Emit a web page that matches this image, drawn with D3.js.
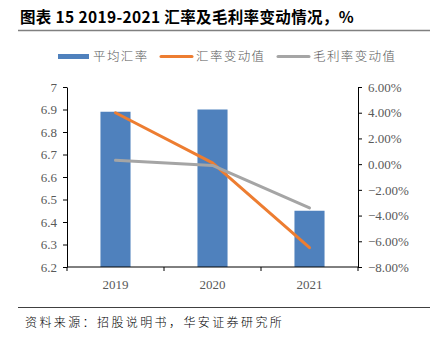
<!DOCTYPE html>
<html>
<head>
<meta charset="utf-8">
<script src="https://cdn.jsdelivr.net/npm/d3@7"></script>
<style>
  html, body { margin: 0; padding: 0; background: #fff; }
  svg { display: block; }
</style>
</head>
<body>
<svg id="chart" width="431" height="337"></svg>
<script>
// Years and series
const years = ["2019", "2020", "2021"];
const avgRate = [6.89, 6.90, 6.45];          // 平均汇率
const rateChange = [4.0, 0.1, -6.5];         // 汇率变动值 (%)
const marginChange = [0.3, -0.1, -3.4];      // 毛利率变动值 (%)
const leftTicks = [6.2, 6.3, 6.4, 6.5, 6.6, 6.7, 6.8, 6.9, 7];
const rightTicks = [-8, -6, -4, -2, 0, 2, 4, 6];

const svg = d3.select("#chart");
const serif = "'Liberation Serif', 'DejaVu Serif', serif";
const cjk = "'Noto Sans CJK SC', sans-serif";

const plot = { left: 67, right: 358, top: 87, bottom: 267 };

const x = d3.scaleBand().domain(years).range([plot.left, plot.right]).paddingInner(0.69).paddingOuter(0.345);
const xBand = d3.scaleBand().domain(years).range([plot.left, plot.right]);
const yL = d3.scaleLinear().domain([6.2, 7]).range([plot.bottom, plot.top]);
const yR = d3.scaleLinear().domain([-8, 6]).range([plot.bottom, plot.top]);

// Title
svg.append("text").attr("x", 20).attr("y", 23)
  .attr("font-family", cjk).attr("font-weight", "bold").attr("font-size", 15.5)
  .attr("letter-spacing", 0.35)
  .attr("fill", "#000").text("图表 15 2019-2021 汇率及毛利率变动情况，%");
svg.append("line").attr("x1", 18).attr("x2", 430).attr("y1", 30.5).attr("y2", 30.5)
  .attr("stroke", "#808080").attr("stroke-width", 1.5);

// Legend
const leg = svg.append("g").attr("font-family", cjk).attr("font-size", 12.5)
  .attr("letter-spacing", 1.4).attr("font-weight", 300);
leg.append("rect").attr("x", 58).attr("y", 54).attr("width", 31).attr("height", 5).attr("fill", "#4F81BD");
leg.append("text").attr("x", 93).attr("y", 61).attr("fill", "#595959").text("平均汇率");
leg.append("line").attr("x1", 161).attr("x2", 192).attr("y1", 56.5).attr("y2", 56.5)
  .attr("stroke", "#ED7D31").attr("stroke-width", 3).attr("stroke-linecap", "round");
leg.append("text").attr("x", 196).attr("y", 61).attr("fill", "#595959").text("汇率变动值");
leg.append("line").attr("x1", 278).attr("x2", 309).attr("y1", 56.5).attr("y2", 56.5)
  .attr("stroke", "#A5A5A5").attr("stroke-width", 3).attr("stroke-linecap", "round");
leg.append("text").attr("x", 313).attr("y", 61).attr("fill", "#595959").text("毛利率变动值");

// Bars
svg.append("g").selectAll("rect").data(years).join("rect")
  .attr("x", d => x(d))
  .attr("width", x.bandwidth())
  .attr("y", (d, i) => yL(avgRate[i]))
  .attr("height", (d, i) => yL(6.2) - yL(avgRate[i]))
  .attr("fill", "#4F81BD");

// Lines
const cx = d => xBand(d) + xBand.bandwidth() / 2;
const lineGen = vals => d3.line().x(d => cx(d)).y((d, i) => yR(vals[i]))(years);
svg.append("path").attr("d", lineGen(rateChange)).attr("fill", "none")
  .attr("stroke", "#ED7D31").attr("stroke-width", 3).attr("stroke-linecap", "round").attr("stroke-linejoin", "round");
svg.append("path").attr("d", lineGen(marginChange)).attr("fill", "none")
  .attr("stroke", "#A5A5A5").attr("stroke-width", 3).attr("stroke-linecap", "round").attr("stroke-linejoin", "round");

// Axes
function styleAxis(g) {
  g.selectAll("path.domain").attr("stroke", "#000").attr("stroke-width", 1);
  g.selectAll(".tick line").attr("stroke", "#000");
  g.selectAll(".tick text").attr("font-family", serif).attr("font-size", 13).attr("fill", "#595959");
}
const axL = svg.append("g").attr("transform", `translate(${plot.left},0)`)
  .call(d3.axisLeft(yL).tickValues(leftTicks).tickSize(4).tickSizeOuter(0).tickPadding(6)
    .tickFormat(d => d3.format("")(d)));
styleAxis(axL);
const axR = svg.append("g").attr("transform", `translate(${plot.right},0)`)
  .call(d3.axisRight(yR).tickValues(rightTicks).tickSize(4).tickSizeOuter(0).tickPadding(6)
    .tickFormat(d => d3.format(".2f")(d) + "%"));
styleAxis(axR);

// X axis with ticks on category boundaries
const axX = svg.append("g").attr("transform", `translate(0,${plot.bottom})`);
axX.append("line").attr("x1", plot.left).attr("x2", plot.right).attr("stroke", "#000");
axX.selectAll("line.tk").data(years.concat(["end"])).join("line").attr("class", "tk")
  .attr("x1", (d, i) => i < years.length ? xBand(d) : plot.right)
  .attr("x2", (d, i) => i < years.length ? xBand(d) : plot.right)
  .attr("y1", 0).attr("y2", 4).attr("stroke", "#000");
axX.selectAll("text").data(years).join("text")
  .attr("x", d => cx(d)).attr("y", 22).attr("text-anchor", "middle")
  .attr("font-family", serif).attr("font-size", 13).attr("fill", "#595959").text(d => d);

// Source
svg.append("line").attr("x1", 18).attr("x2", 430).attr("y1", 307.5).attr("y2", 307.5)
  .attr("stroke", "#404040").attr("stroke-width", 1);
svg.append("text").attr("x", 25).attr("y", 327).attr("font-family", cjk).attr("font-size", 12)
  .attr("font-weight", 300).attr("letter-spacing", 2.4)
  .attr("fill", "#000").text("资料来源：招股说明书，华安证券研究所");
</script>
</body>
</html>
